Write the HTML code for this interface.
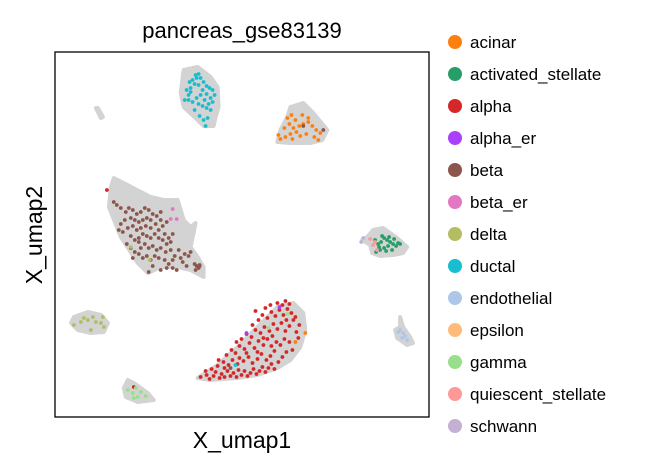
<!DOCTYPE html>
<html><head><meta charset="utf-8"><style>
body{margin:0;background:#fff;}
svg{display:block;font-family:"Liberation Sans",Arial,sans-serif;}
</style></head><body>
<svg id="chart" width="671" height="472" viewBox="0 0 671 472">
<rect width="671" height="472" fill="#fff"/>
<text x="242" y="38" font-size="22" text-anchor="middle" fill="#000">pancreas_gse83139</text>
<text x="242" y="448" font-size="23" text-anchor="middle" fill="#000">X_umap1</text>
<text transform="translate(42,235) rotate(-90)" font-size="23" text-anchor="middle" fill="#000">X_umap2</text>
<g id="blobs"></g>
<g id="points"></g>
<rect x="55" y="52" width="374" height="365" fill="none" stroke="#000" stroke-width="1.3"/>
<g id="legend"></g>
</svg>
<script>
const categories=["acinar","activated_stellate","alpha","alpha_er","beta","beta_er","delta","ductal","endothelial","epsilon","gamma","quiescent_stellate","schwann"];
const colors=["#ff7f0e","#279e68","#d62728","#aa40fc","#8c564b","#e377c2","#b5bd61","#17becf","#aec7e8","#ffbb78","#98df8a","#ff9896","#c5b0d5"];
const xDomain=[54,429];
const yDomain=[53,418];
const blobHulls=[
[[183,400],[197,403],[210,393],[217,383],[218,363],[215,353],[213,344],[203,344],[197,350],[183,363],[180,377],[182,393]],
[[290,363],[303,367],[313,357],[327,340],[322,330],[310,327],[290,327],[277,328],[280,340],[287,353]],
[[95,362],[97,362],[102,353],[100,352]],
[[113,292],[150,273],[163,270],[177,270],[183,250],[190,243],[195,247],[193,237],[190,223],[197,213],[203,203],[203,193],[190,200],[177,203],[160,203],[147,197],[137,207],[120,233],[108,263],[110,283]],
[[373,240],[383,242],[397,232],[407,223],[403,217],[393,215],[380,214],[372,217],[370,225],[362,230],[367,233]],
[[400,153],[403,143],[410,133],[413,127],[407,125],[397,132],[395,140],[400,143]],
[[73,153],[87,158],[100,155],[107,147],[103,138],[90,137],[77,140],[70,147]],
[[197,92],[217,105],[237,123],[257,143],[277,163],[293,167],[303,157],[305,140],[300,123],[290,110],[277,102],[257,95],[237,92],[210,90]],
[[127,90],[133,87],[147,77],[153,70],[137,68],[125,73],[123,82]]
];
const acinarPts=[[287,352],[291,355],[295,350],[289,346],[284,342],[293,342],[299,344],[303,346],[308,348],[312,344],[316,340],[320,337],[306,336],[300,334],[296,338],[290,336],[285,333],[280,331],[278,335],[302,355],[308,352],[314,333],[318,330],[292,331],[295,128],[305,137]];
const stellatePts=[[375,230],[378,226],[381,228],[384,232],[387,230],[390,228],[393,226],[396,224],[388,224],[384,222],[380,220],[386,219],[392,220],[398,227],[382,234],[379,223],[389,233],[376,218],[394,231],[400,226]];
const alphaPts=[[200,93],[206,95],[209,91],[213,94],[215,98],[219,92],[221,96],[224,93],[227,99],[230,94],[233,97],[236,93],[238,100],[241,95],[244,99],[247,94],[250,97],[253,101],[256,96],[259,99],[262,103],[265,98],[268,102],[271,106],[274,101],[211,101],[217,104],[223,108],[228,105],[232,110],[237,106],[243,109],[248,113],[252,107],[257,111],[261,116],[266,110],[270,114],[274,119],[278,108],[282,113],[286,118],[226,115],[231,120],[235,117],[239,124],[244,121],[249,127],[254,122],[258,129],[263,125],[267,131],[271,124],[276,128],[280,125],[284,131],[289,128],[292,120],[241,131],[246,136],[251,133],[255,140],[260,137],[264,143],[269,139],[273,146],[277,141],[281,147],[285,139],[289,144],[293,150],[296,138],[252,145],[258,150],[262,155],[267,152],[271,158],[275,154],[279,160],[283,155],[287,161],[291,157],[295,153],[277,167],[282,165],[285,169],[289,166],[265,162],[270,165],[299,145],[298,132],[257,118],[236,128],[246,117],[224,102],[218,110],[205,99],[239,112],[263,132],[272,134],[286,150],[255,159],[106,280],[199,204],[133,83]];
const alphaErPts=[[279,163],[246,137]];
const betaPts=[[113,268],[116,265],[120,262],[125,258],[128,262],[132,260],[136,256],[140,258],[144,262],[148,260],[152,256],[156,254],[160,258],[150,250],[146,252],[142,250],[138,248],[134,250],[130,252],[124,250],[120,246],[118,240],[122,238],[127,242],[132,244],[136,240],[140,242],[145,244],[150,242],[155,246],[158,240],[162,244],[166,248],[160,250],[164,236],[168,232],[172,236],[170,228],[166,226],[162,230],[158,232],[154,236],[150,232],[146,234],[142,236],[138,232],[134,230],[130,234],[126,226],[130,222],[134,218],[140,222],[144,226],[148,222],[152,224],[156,220],[160,222],[165,218],[170,220],[174,214],[178,220],[180,212],[184,216],[172,210],[168,206],[164,210],[158,212],[154,214],[150,210],[146,214],[142,212],[138,216],[152,204],[160,200],[166,202],[172,202],[176,200],[182,208],[186,204],[188,214],[190,218],[194,206],[196,204],[198,202],[195,200],[199,205],[148,198],[138,228],[132,212],[303,344],[323,340],[230,102]];
const betaErPts=[[172,261],[170,251],[176,251]];
const deltaPts=[[73,145],[80,148],[87,150],[92,153],[95,148],[100,147],[103,143],[90,140],[102,153],[83,152],[130,223],[149,210]];
const ductalPts=[[184,370],[188,375],[190,382],[192,390],[195,395],[198,396],[200,392],[203,388],[206,384],[209,382],[212,380],[214,375],[210,372],[206,376],[202,380],[198,385],[194,386],[190,378],[186,380],[188,370],[192,368],[196,372],[200,375],[204,370],[208,366],[212,368],[210,360],[206,362],[202,364],[198,366],[194,360],[199,354],[203,350],[207,352],[205,344],[196,392],[189,388],[235,105]];
const endoPts=[[400,140],[403,137],[405,134],[402,132],[407,130],[398,138]];
const epsilonPts=[];
const gammaPts=[[127,80],[132,77],[137,73],[140,78],[145,74],[133,72],[135,82],[287,156],[268,142]];
const quiescentPts=[[370,231],[375,228],[377,220],[373,225]];
const schwannPts=[[363,232],[361,228]];

const NS="http://www.w3.org/2000/svg";
const pL=55,pR=429,pT=52,pB=417;
function xScale(v){return pL+(v-xDomain[0])/(xDomain[1]-xDomain[0])*(pR-pL);}
function yScale(v){return pB-(v-yDomain[0])/(yDomain[1]-yDomain[0])*(pB-pT);}

const gB=document.getElementById('blobs');
blobHulls.forEach(h=>{
  const p=document.createElementNS(NS,'polygon');
  p.setAttribute('points',h.map(q=>xScale(q[0]).toFixed(1)+','+yScale(q[1]).toFixed(1)).join(' '));
  p.setAttribute('fill','#d3d3d3');p.setAttribute('stroke','#d3d3d3');
  p.setAttribute('stroke-width','4');p.setAttribute('stroke-linejoin','round');
  
  
  gB.appendChild(p);
});
const series=[acinarPts,stellatePts,alphaPts,alphaErPts,betaPts,betaErPts,deltaPts,ductalPts,endoPts,epsilonPts,gammaPts,quiescentPts,schwannPts];
const gP=document.getElementById('points');
series.forEach((pts,i)=>{
  pts.forEach(q=>{
    const c=document.createElementNS(NS,'circle');
    c.setAttribute('cx',xScale(q[0]).toFixed(1));c.setAttribute('cy',yScale(q[1]).toFixed(1));
    c.setAttribute('r','1.9');c.setAttribute('fill',colors[i]);
    
    
    gP.appendChild(c);
  });
});
const gL=document.getElementById('legend');
categories.forEach((cat,i)=>{
  const y=42+i*32;
  const c=document.createElementNS(NS,'circle');
  c.setAttribute('cx','455');c.setAttribute('cy',y);c.setAttribute('r','7');c.setAttribute('fill',colors[i]);
  
  
  gL.appendChild(c);
  const t=document.createElementNS(NS,'text');
  t.setAttribute('x','470');t.setAttribute('y',y+6);t.setAttribute('font-size','17');t.setAttribute('fill','#000');
  t.textContent=cat;
  
  
  gL.appendChild(t);
});
</script>
</body></html>
